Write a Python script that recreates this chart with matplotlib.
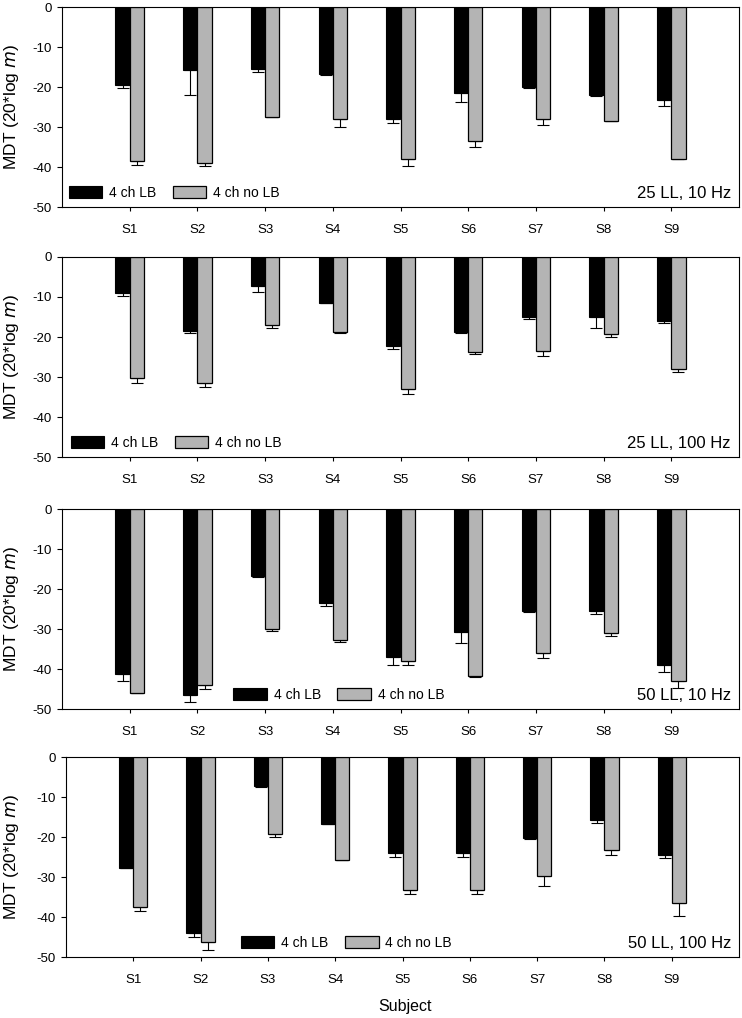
import numpy as np
import matplotlib; matplotlib.use("Agg")
import matplotlib.pyplot as plt

plt.rcParams["font.family"] = ["Liberation Sans", "DejaVu Sans"]
plt.rcParams["axes.unicode_minus"] = False

subjects = ["S1", "S2", "S3", "S4", "S5", "S6", "S7", "S8", "S9"]
conditions = ["25 LL, 10 Hz", "25 LL, 100 Hz", "50 LL, 10 Hz", "50 LL, 100 Hz"]

# MDT means and (one-sided) error, 4 ch LB vs 4 ch no LB
lb_25_10 = [-19.5, -15.8, -15.4, -16.8, -28.0, -21.4, -20.1, -22.1, -23.3]
lb_25_10_err = [0.7, 6.1, 0.8, 0.2, 0.9, 2.4, 0.1, 0.1, 1.5]
nolb_25_10 = [-38.6, -38.9, -27.4, -28.1, -38.1, -33.5, -28.1, -28.5, -38.0]
nolb_25_10_err = [0.9, 0.9, 0.2, 1.8, 1.6, 1.4, 1.3, 0.1, 0.1]

lb_25_100 = [-9.0, -18.5, -7.3, -11.6, -22.2, -18.8, -15.0, -15.0, -15.9]
lb_25_100_err = [0.7, 0.5, 1.4, 0.0, 0.9, 0.2, 0.5, 2.8, 0.5]
nolb_25_100 = [-30.2, -31.6, -16.9, -18.8, -33.1, -23.8, -23.6, -19.3, -28.1]
nolb_25_100_err = [1.4, 0.8, 0.8, 0.2, 1.1, 0.5, 1.1, 0.8, 0.7]

lb_50_10 = [-41.2, -46.4, -16.7, -23.5, -37.1, -30.8, -25.4, -25.4, -38.9]
lb_50_10_err = [1.9, 1.9, 0.3, 0.8, 1.9, 2.7, 0.4, 0.8, 1.9]
nolb_50_10 = [-46.1, -44.0, -29.9, -32.7, -38.1, -41.8, -36.1, -30.9, -42.9]
nolb_50_10_err = [0.0, 1.1, 0.6, 0.6, 0.8, 0.1, 1.2, 0.8, 1.9]

lb_50_100 = [-27.8, -44.1, -7.2, -16.7, -23.9, -23.9, -20.3, -15.8, -24.6]
lb_50_100_err = [0.0, 0.9, 0.4, 0.0, 1.1, 1.1, 0.2, 0.6, 0.6]
nolb_50_100 = [-37.6, -46.3, -19.3, -25.7, -33.2, -33.2, -29.8, -23.3, -36.6]
nolb_50_100_err = [0.8, 2.0, 0.8, 0.0, 1.1, 1.1, 2.4, 1.1, 3.2]

panels = [
    (lb_25_10, lb_25_10_err, nolb_25_10, nolb_25_10_err),
    (lb_25_100, lb_25_100_err, nolb_25_100, nolb_25_100_err),
    (lb_50_10, lb_50_10_err, nolb_50_10, nolb_50_10_err),
    (lb_50_100, lb_50_100_err, nolb_50_100, nolb_50_100_err),
]

W, H = 742, 1018
fig = plt.figure(figsize=(W / 100, H / 100), dpi=100)

# axes boxes in pixels: left, right, top, bottom
boxes = [(62, 739, 7, 207), (62, 739, 257, 457), (62, 739, 509, 709), (66, 739, 757, 957)]
leg_x = [0.010, 0.013, 0.253, 0.260]
GRAY = "#b4b4b4"
bw = 0.21
x = np.arange(1, len(subjects) + 1)

for i, ((lb, lbe, nl, nle), cond, (l, r, t, b)) in enumerate(zip(panels, conditions, boxes)):
    ax = fig.add_axes([l / W, 1 - b / H, (r - l) / W, (b - t) / H])
    b1 = ax.bar(x - bw / 2, lb, bw, color="black", edgecolor="black", lw=0.8, label="4 ch LB", zorder=2)
    b2 = ax.bar(x + bw / 2, nl, bw, color=GRAY, edgecolor="black", lw=0.9, label="4 ch no LB", zorder=2)
    z = np.zeros(len(x))
    ax.errorbar(x - bw / 2, lb, yerr=[lbe, z], fmt="none", ecolor="black", elinewidth=0.8,
                capsize=4, capthick=0.8, zorder=1)
    ax.errorbar(x + bw / 2, nl, yerr=[nle, z], fmt="none", ecolor="black", elinewidth=0.8,
                capsize=4, capthick=0.8, zorder=1)

    ax.set_xlim(0, 10)
    ax.set_ylim(-50, 0)
    ax.set_yticks([0, -10, -20, -30, -40, -50])
    ax.set_xticks(x)
    ax.set_xticklabels(subjects)
    ax.tick_params(axis="x", direction="out", length=3, width=0.8, pad=9, labelsize=9.5)
    ax.tick_params(axis="y", direction="out", length=3.5, width=0.8, pad=4, labelsize=9.5)
    for s in ax.spines.values():
        s.set_linewidth(0.8)

    ax.legend(handles=[b1, b2], loc="center left", bbox_to_anchor=(leg_x[i], 0.07), ncol=2,
              frameon=False, fontsize=10, handlelength=2.4, handleheight=0.9,
              handletextpad=0.5, columnspacing=1.2, borderpad=0, borderaxespad=0)
    ax.text(0.988, 0.07, cond, transform=ax.transAxes, ha="right", va="center", fontsize=12)

    fig.text(12 / W, 1 - (t + b) / 2 / H, "MDT (20*log $\\it{m}$)", rotation=90,
             ha="center", va="center", fontsize=12.5)

fig.text(405 / W, 1 - 1007 / H, "Subject", ha="center", va="center", fontsize=11.5)

fig.savefig("out.png", dpi=100)
